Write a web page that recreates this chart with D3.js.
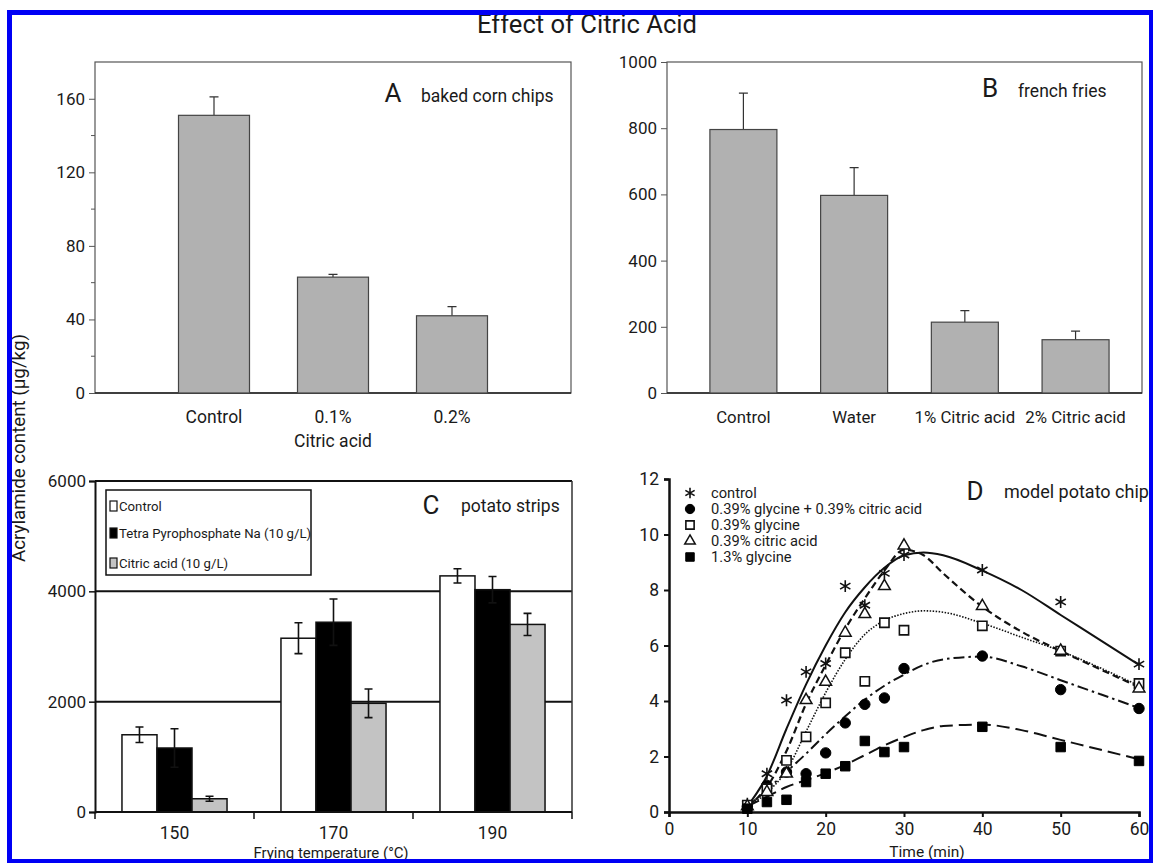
<!DOCTYPE html>
<html>
<head>
<meta charset="utf-8">
<script src="https://cdn.jsdelivr.net/npm/d3@7"></script>
<style>
  body { margin: 0; background: #fff; }
  svg { display: block; }
  text { font-family: Roboto, "Liberation Sans", sans-serif; fill: #1a1a1a; }
</style>
</head>
<body>
<svg id="chart" width="1153" height="863"></svg>
<script>
// ---- Panel A: baked corn chips ----
const cornCategories = ["Control", "0.1%", "0.2%"];
const cornValues = [151, 63, 42];
const cornErrors = [10, 1.5, 5];
const cornTicks = [0, 40, 80, 120, 160];
const cornMinorTicks = [20, 60, 100, 140];

// ---- Panel B: french fries ----
const friesCategories = ["Control", "Water", "1% Citric acid", "2% Citric acid"];
const friesValues = [796, 597, 214, 161];
const friesErrors = [110, 84, 35, 26];
const friesTicks = [0, 200, 400, 600, 800, 1000];

// ---- Panel C: potato strips ----
const stripTemps = ["150", "170", "190"];
const stripSeries = ["Control", "Tetra Pyrophosphate Na (10 g/L)", "Citric acid (10 g/L)"];
const stripControl = [1400, 3150, 4280];
const stripPyrophosphate = [1160, 3440, 4030];
const stripCitric = [240, 1970, 3400];
const stripControlErr = [140, 280, 130];
const stripPyrophosphateErr = [350, 420, 240];
const stripCitricErr = [45, 260, 200];
const stripTicks = [0, 2000, 4000, 6000];

// ---- Panel D: model potato chip ----
const chipTimes = [10, 12.5, 15, 17.5, 20, 22.5, 25, 27.5, 30, 40, 50, 60];
const chipControl = [0.3, 1.38, 4.03, 5.05, 5.35, 8.14, 7.45, 8.6, 9.26, 8.72, 7.57, 5.33];
const chipGlyCitric = [0.2, 0.96, 1.44, 1.38, 2.13, 3.21, 3.88, 4.11, 5.17, 5.62, 4.41, 3.73];
const chipGlycine = [0.25, 0.84, 1.86, 2.71, 3.93, 5.74, 4.71, 6.82, 6.55, 6.71, 5.8, 4.63];
const chipCitric = [0.2, 0.72, 1.38, 4.03, 4.69, 6.46, 7.13, 8.14, 9.6, 7.42, 5.81, 4.45];
const chipGlycineHigh = [0.12, 0.36, 0.44, 1.08, 1.38, 1.65, 2.56, 2.16, 2.34, 3.07, 2.34, 1.84];

// fitted kinetic curves (time, acrylamide)
const fitTimes = [10, 12.5, 15, 17.5, 20, 22.5, 25, 27.5, 30, 32.5, 35, 40, 45, 50, 55, 60];
const fitControl = [0.2, 1.3, 3.0, 4.6, 6.0, 7.2, 8.1, 8.8, 9.25, 9.35, 9.25, 8.7, 8.0, 7.1, 6.2, 5.3];
const fitCitric = [0.2, 0.9, 2.2, 3.9, 5.3, 6.6, 7.7, 8.7, 9.45, 9.25, 8.6, 7.4, 6.5, 5.8, 5.15, 4.5];
const fitGlycine = [0.2, 0.7, 1.5, 2.9, 4.3, 5.5, 6.4, 6.9, 7.15, 7.25, 7.2, 6.8, 6.3, 5.8, 5.2, 4.55];
const fitGlyCitric = [0.2, 0.8, 1.45, 2.1, 2.8, 3.45, 4.05, 4.55, 4.95, 5.3, 5.5, 5.6, 5.25, 4.75, 4.25, 3.75];
const fitGlycineHigh = [0.2, 0.55, 0.9, 1.15, 1.4, 1.7, 2.05, 2.4, 2.7, 2.95, 3.1, 3.15, 2.95, 2.6, 2.25, 1.9];

const svg = d3.select("#chart");

// ---------- title and shared y label ----------
svg.append("text")
  .attr("x", 587).attr("y", 33)
  .attr("text-anchor", "middle")
  .attr("font-size", 25)
  .attr("textLength", 220).attr("lengthAdjust", "spacingAndGlyphs")
  .text("Effect of Citric Acid");

svg.append("text")
  .attr("transform", "translate(25,448) rotate(-90)")
  .attr("text-anchor", "middle")
  .attr("font-size", 17.5)
  .attr("textLength", 228).attr("lengthAdjust", "spacingAndGlyphs")
  .text("Acrylamide content (µg/kg)");

// ---------- helper for simple bar panels ----------
function barPanel(opts) {
  const g = svg.append("g");
  const x = d3.scaleLinear().domain(opts.xDomain).range([opts.left, opts.right]);
  const y = d3.scaleLinear().domain([0, opts.yMax]).range([opts.bottom, opts.top]);

  // frame
  g.append("rect")
    .attr("x", opts.left).attr("y", opts.top)
    .attr("width", opts.right - opts.left).attr("height", opts.bottom - opts.top)
    .attr("fill", "none").attr("stroke", "#555").attr("stroke-width", 1.2);

  // y axis
  const axis = d3.axisLeft(y).tickValues(opts.ticks).tickSize(6).tickPadding(4).tickFormat(d3.format("d"));
  const ag = g.append("g").attr("transform", `translate(${opts.left},0)`).call(axis);
  ag.select(".domain").remove();
  ag.selectAll("line").attr("stroke", "#555");
  ag.selectAll("text").attr("font-size", 17).attr("font-family", "Roboto, sans-serif").attr("fill", "#1a1a1a");
  if (opts.minor) {
    g.selectAll(".minor").data(opts.minor).join("line")
      .attr("x1", opts.left - 4).attr("x2", opts.left)
      .attr("y1", d => y(d)).attr("y2", d => y(d))
      .attr("stroke", "#555");
  }
  // bottom line a bit darker
  g.append("line")
    .attr("x1", opts.left).attr("x2", opts.right)
    .attr("y1", y(0)).attr("y2", y(0))
    .attr("stroke", "#222").attr("stroke-width", 1.5);

  const idx = opts.categories.map((_, i) => i + 1);
  // error bars (drawn before bars so the stem starts at the bar top)
  g.selectAll(".err").data(idx).join("path")
    .attr("d", i => {
      const cx = x(i), top = y(opts.values[i - 1] + opts.errors[i - 1]);
      return `M${cx},${y(opts.values[i - 1])}V${top}M${cx - 4.5},${top}H${cx + 4.5}`;
    })
    .attr("stroke", "#333").attr("stroke-width", 1.2).attr("fill", "none");
  g.selectAll(".bar").data(idx).join("rect")
    .attr("x", i => x(i) - opts.barWidth / 2)
    .attr("width", opts.barWidth)
    .attr("y", i => y(opts.values[i - 1]))
    .attr("height", i => y(0) - y(opts.values[i - 1]))
    .attr("fill", "#b1b1b1").attr("stroke", "#444").attr("stroke-width", 1.2);

  g.selectAll(".cat").data(idx).join("text")
    .attr("x", i => x(i)).attr("y", y(0) + 30)
    .attr("text-anchor", "middle").attr("font-size", opts.catSize)
    .text(i => opts.categories[i - 1]);

  g.append("text").attr("x", opts.letterX).attr("y", opts.letterY)
    .attr("text-anchor", "middle").attr("font-size", 26).text(opts.letter);
  g.append("text").attr("x", opts.nameX).attr("y", opts.letterY)
    .attr("font-size", 17.5).text(opts.name);
  return { g, x, y };
}

// Panel A
const pA = barPanel({
  left: 95, right: 571, top: 62, bottom: 393,
  xDomain: [0, 4], yMax: 180,
  ticks: cornTicks, minor: cornMinorTicks,
  categories: cornCategories, values: cornValues, errors: cornErrors,
  barWidth: 71, catSize: 17.5,
  letter: "A", letterX: 393, letterY: 102, nameX: 421, name: "baked corn chips"
});
pA.g.append("text")
  .attr("x", pA.x(2)).attr("y", pA.y(0) + 54)
  .attr("text-anchor", "middle").attr("font-size", 17.5)
  .text("Citric acid");

// Panel B
barPanel({
  left: 667, right: 1142, top: 62, bottom: 393,
  xDomain: [0.31, 4.6], yMax: 1000,
  ticks: friesTicks,
  categories: friesCategories, values: friesValues, errors: friesErrors,
  barWidth: 67, catSize: 16.8,
  letter: "B", letterX: 990, letterY: 97, nameX: 1018, name: "french fries"
});

// ---------- Panel C: grouped bars ----------
(function () {
  const left = 95, right = 572, top = 481, bottom = 812;
  const g = svg.append("g");
  const x0 = d3.scaleBand().domain(stripTemps).range([left, right]);
  const x1 = d3.scaleBand().domain(stripSeries).range([0, x0.bandwidth()]).paddingOuter(0.77);
  const y = d3.scaleLinear().domain([0, 6000]).range([bottom, top]);
  const series = [stripControl, stripPyrophosphate, stripCitric];
  const errs = [stripControlErr, stripPyrophosphateErr, stripCitricErr];
  const fills = ["#ffffff", "#000000", "#c3c3c3"];

  // gridlines & frame
  g.selectAll(".grid").data([2000, 4000, 6000]).join("line")
    .attr("x1", left).attr("x2", right)
    .attr("y1", d => y(d)).attr("y2", d => y(d))
    .attr("stroke", "#111").attr("stroke-width", 2);
  g.append("line").attr("x1", right).attr("x2", right).attr("y1", top).attr("y2", bottom)
    .attr("stroke", "#333").attr("stroke-width", 1.5);

  const cells = [];
  stripTemps.forEach((t, ti) => stripSeries.forEach((s, si) =>
    cells.push({ t, s, v: series[si][ti], e: errs[si][ti], fill: fills[si] })));

  g.selectAll(".bar").data(cells).join("rect")
    .attr("x", d => x0(d.t) + x1(d.s))
    .attr("width", x1.bandwidth())
    .attr("y", d => y(d.v))
    .attr("height", d => y(0) - y(d.v))
    .attr("fill", d => d.fill).attr("stroke", "#111").attr("stroke-width", 1.5);

  g.selectAll(".err").data(cells).join("path")
    .attr("d", d => {
      const cx = x0(d.t) + x1(d.s) + x1.bandwidth() / 2;
      const a = y(d.v + d.e), b = y(d.v - d.e);
      return `M${cx},${a}V${b}M${cx - 4},${a}H${cx + 4}M${cx - 4},${b}H${cx + 4}`;
    })
    .attr("stroke", "#111").attr("stroke-width", 1.6).attr("fill", "none");

  // axes
  const ya = d3.axisLeft(y).tickValues(stripTicks).tickSize(6).tickPadding(3).tickFormat(d3.format("d"));
  const yg = g.append("g").attr("transform", `translate(${left},0)`).call(ya);
  yg.select(".domain").attr("stroke", "#111").attr("stroke-width", 2);
  yg.selectAll("line").attr("stroke", "#111").attr("stroke-width", 1.5);
  yg.selectAll("text").attr("font-size", 17).attr("font-family", "Roboto, sans-serif").attr("fill", "#1a1a1a");

  g.append("line").attr("x1", left).attr("x2", right).attr("y1", y(0)).attr("y2", y(0))
    .attr("stroke", "#111").attr("stroke-width", 2);
  const bounds = stripTemps.map(t => x0(t)).concat([right]);
  g.selectAll(".xt").data(bounds).join("line")
    .attr("x1", d => d).attr("x2", d => d).attr("y1", y(0)).attr("y2", y(0) + 7)
    .attr("stroke", "#111").attr("stroke-width", 1.5);
  g.selectAll(".xl").data(stripTemps).join("text")
    .attr("x", d => x0(d) + x0.bandwidth() / 2).attr("y", y(0) + 27)
    .attr("text-anchor", "middle").attr("font-size", 17.5).text(d => d);
  g.append("text").attr("x", 331).attr("y", 858)
    .attr("text-anchor", "middle").attr("font-size", 15).text("Frying temperature (°C)");

  // legend
  g.append("rect").attr("x", 106).attr("y", 490).attr("width", 205).attr("height", 85)
    .attr("fill", "#fff").attr("stroke", "#111").attr("stroke-width", 1.5);
  const ly = [506, 533, 563];
  stripSeries.forEach((s, i) => {
    g.append("rect").attr("x", 110).attr("y", ly[i] - 5).attr("width", 7).attr("height", 10)
      .attr("fill", fills[i]).attr("stroke", "#111").attr("stroke-width", 1.2);
    g.append("text").attr("x", 119).attr("y", ly[i] + 4.5)
      .attr("font-size", 13.2).text(s);
  });

  g.append("text").attr("x", 431).attr("y", 514).attr("text-anchor", "middle").attr("font-size", 26).text("C");
  g.append("text").attr("x", 461).attr("y", 512).attr("font-size", 17.5).text("potato strips");
})();

// ---------- Panel D: kinetics ----------
(function () {
  const g = svg.append("g");
  const x = d3.scaleLinear().domain([0, 60]).range([669, 1139]);
  const y = d3.scaleLinear().domain([0, 12]).range([812, 479]);

  const xa = d3.axisBottom(x).tickValues(d3.range(0, 61, 10)).tickSize(5).tickPadding(6);
  const xg = g.append("g").attr("transform", `translate(0,${y(0)})`).call(xa);
  const ya = d3.axisLeft(y).tickValues(d3.range(0, 13, 2)).tickSize(5).tickPadding(5);
  const yg = g.append("g").attr("transform", `translate(${x(0)},0)`).call(ya);
  [xg, yg].forEach(a => {
    a.select(".domain").attr("stroke", "#111").attr("stroke-width", 2.5);
    a.selectAll("line").attr("stroke", "#111").attr("stroke-width", 2);
    a.selectAll("text").attr("font-size", 17.5).attr("font-family", "Roboto, sans-serif").attr("fill", "#1a1a1a");
  });
  g.append("text").attr("x", 927).attr("y", 857).attr("text-anchor", "middle")
    .attr("font-size", 15.5).text("Time (min)");

  const line = d3.line().x(d => x(d[0])).y(d => y(d[1])).curve(d3.curveMonotoneX);
  const fits = [
    { v: fitControl, dash: null, w: 2 },
    { v: fitCitric, dash: "7,4", w: 2.2 },
    { v: fitGlycine, dash: "1.5,1.5", w: 1.6 },
    { v: fitGlyCitric, dash: "11,4,2.5,4", w: 2 },
    { v: fitGlycineHigh, dash: "13,6", w: 2 }
  ];
  fits.forEach(f => {
    g.append("path").datum(fitTimes.map((t, i) => [t, f.v[i]]))
      .attr("d", line).attr("fill", "none")
      .attr("stroke", "#111").attr("stroke-width", f.w)
      .attr("stroke-dasharray", f.dash);
  });

  const markers = [
    { name: "control", v: chipControl, sym: d3.symbolAsterisk, size: 100, fill: "none", stroke: "#111", sw: 1.6 },
    { name: "0.39% glycine + 0.39% citric acid", v: chipGlyCitric, sym: d3.symbolCircle, size: 85, fill: "#000", stroke: "#000", sw: 1 },
    { name: "0.39% glycine", v: chipGlycine, sym: d3.symbolSquare, size: 85, fill: "#fff", stroke: "#111", sw: 1.6 },
    { name: "0.39% citric acid", v: chipCitric, sym: d3.symbolTriangle, size: 60, fill: "#fff", stroke: "#111", sw: 1.5 },
    { name: "1.3% glycine", v: chipGlycineHigh, sym: d3.symbolSquare, size: 90, fill: "#000", stroke: "#000", sw: 1 }
  ];
  markers.forEach(m => {
    g.selectAll(null).data(chipTimes.map((t, i) => [t, m.v[i]])).join("path")
      .attr("transform", d => `translate(${x(d[0])},${y(d[1])})`)
      .attr("d", d3.symbol(m.sym, m.size))
      .attr("fill", m.fill).attr("stroke", m.stroke).attr("stroke-width", m.sw);
  });

  // legend
  const ly = [493, 509, 525, 541, 557];
  markers.forEach((m, i) => {
    g.append("path").attr("transform", `translate(690,${ly[i]})`)
      .attr("d", d3.symbol(m.sym, m.size * 0.8))
      .attr("fill", m.fill).attr("stroke", m.stroke).attr("stroke-width", m.sw);
    g.append("text").attr("x", 711).attr("y", ly[i] + 5).attr("font-size", 14.7).text(m.name);
  });

  g.append("text").attr("x", 975).attr("y", 500).attr("text-anchor", "middle").attr("font-size", 26).text("D");
  g.append("text").attr("x", 1004).attr("y", 498).attr("font-size", 18).text("model potato chip");
})();

// ---------- blue frame (on top, trims the edges) ----------
const frame = [
  [0, 0, 1153, 10, "#fff"],
  [7, 10, 1146, 5, "#0000f5"],
  [7, 10, 5, 853, "#0000f5"],
  [1149, 10, 4, 853, "#0000f5"],
  [7, 859, 1146, 4, "#0000f5"]
];
svg.selectAll(".frame").data(frame).join("rect")
  .attr("x", d => d[0]).attr("y", d => d[1]).attr("width", d => d[2]).attr("height", d => d[3])
  .attr("fill", d => d[4]);
</script>
</body>
</html>
